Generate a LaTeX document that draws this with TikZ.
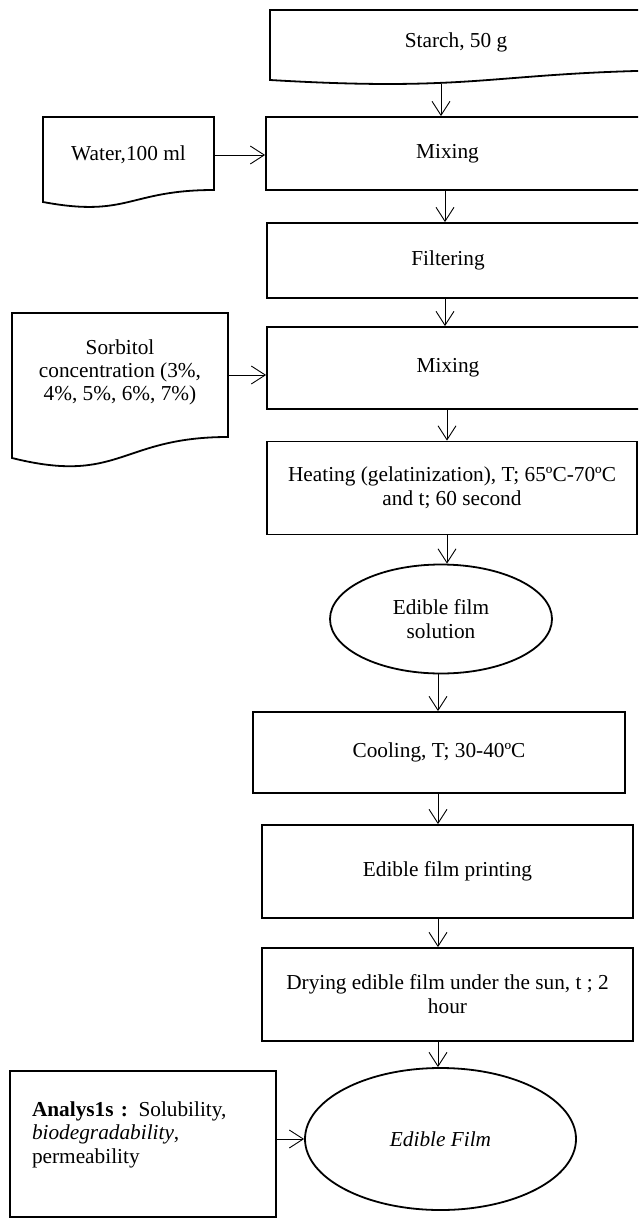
\documentclass[tikz,border=0pt]{standalone}
\usepackage{fontspec}
\setmainfont{Liberation Serif}
\usetikzlibrary{arrows.meta,shapes.geometric}
\begin{document}
\begin{tikzpicture}[x=1pt,y=-1pt,
  every node/.style={font=\fontsize{21.3}{24}\selectfont},
  box/.style={draw,line width=1.8pt,rectangle,inner sep=0pt,align=center},
  oval/.style={draw,line width=1.8pt,ellipse,inner sep=0pt,align=center},
  doc/.style={line width=1.8pt},
  lbl/.style={inner sep=0pt,align=center},
  arr/.style={-{Straight Barb[length=14pt,width=18pt]},line width=0.9pt}]
\useasboundingbox (0,0) rectangle (638,1218);
\clip (0,0) rectangle (638,1218);
\fill[white] (0,0) rectangle (638,1218);

% column coordinates for vertical connectors
\coordinate (c2) at (445,0);
\coordinate (c3) at (447,0);
\coordinate (c4) at (438,0);

% document shapes
\draw[doc] (270,10) -- (710,10) -- (710,70) .. controls (490,70) and (490,93) .. (270,80) -- cycle;
\node[lbl] (starch) at (456,42) {Starch, 50 g};
\coordinate (starchb) at (441,84);

\draw[doc] (43,117) -- (214,117) -- (214,190) .. controls (128.5,190) and (128.5,218) .. (43,202) -- cycle;
\node[lbl,minimum width=171pt] (water) at (128.5,155) {Water,100 ml};

\draw[doc] (12,313) -- (228,313) -- (228,437) .. controls (120,437) and (120,485) .. (12,458) -- cycle;
\node[lbl,font=\fontsize{21.3}{23}\selectfont] (sorb) at (120,372) {Sorbitol\\concentration (3\%,\\4\%, 5\%, 6\%, 7\%)};
\coordinate (sarr) at (228,375);

% process boxes
\node[box,minimum width=379pt,minimum height=73pt] (mix1) at (455.5,153.5) {\hspace*{-16pt}Mixing};
\node[box,minimum width=378pt,minimum height=75pt] (filt) at (456,260.5) {\hspace*{-16pt}Filtering};
\node[box,minimum width=378pt,minimum height=82pt] (mix2) at (456,368) {\hspace*{-16pt}Mixing};
\node[box,minimum width=370pt,minimum height=93pt] (heat) at (452,488) {Heating (gelatinization), T; 65ºC-70ºC\\and t; 60 second};
\node[oval,minimum width=222pt,minimum height=109pt] (sol) at (441,619) {Edible film\\solution};
\node[box,minimum width=372pt,minimum height=81pt] (cool) at (439,752.5) {Cooling, T; 30-40ºC};
\node[box,minimum width=371pt,minimum height=93pt] (print) at (447.5,871.5) {Edible film printing};
\node[box,minimum width=371pt,minimum height=93pt] (dry) at (447.5,994.5) {Drying edible film under the sun, t ; 2\\hour};
\node[oval,minimum width=271pt,minimum height=142pt] (film) at (440.5,1139) {\textit{Edible Film}};
\node[box,minimum width=266pt,minimum height=146pt,text width=222pt,align=left,font=\fontsize{21.3}{23.5}\selectfont] (anal) at (143,1144)
  {\textbf{Analys1s :} Solubility,\\\textit{biodegradability},\\permeability\\\mbox{}};

% connectors
\draw[arr] (starchb) -- (mix1.north -| starchb);
\draw[arr] (water.east) -- (mix1.west |- water.east);
\draw[arr] (mix1.south -| c2) -- (filt.north -| c2);
\draw[arr] (filt.south -| c2) -- (mix2.north -| c2);
\draw[arr] (sarr) -- (mix2.west |- sarr);
\draw[arr] (mix2.south -| c3) -- (heat.north -| c3);
\draw[arr] (heat.south -| c3) -- (sol.north -| c3);
\draw[arr] (sol.south -| c4) -- (cool.north -| c4);
\draw[arr] (cool.south -| c4) -- (print.north -| c4);
\draw[arr] (print.south -| c4) -- (dry.north -| c4);
\draw[arr] (dry.south -| c4) -- (film.north -| c4);
\draw[arr] (anal.east |- film.west) -- (film.west);
\end{tikzpicture}
\end{document}
